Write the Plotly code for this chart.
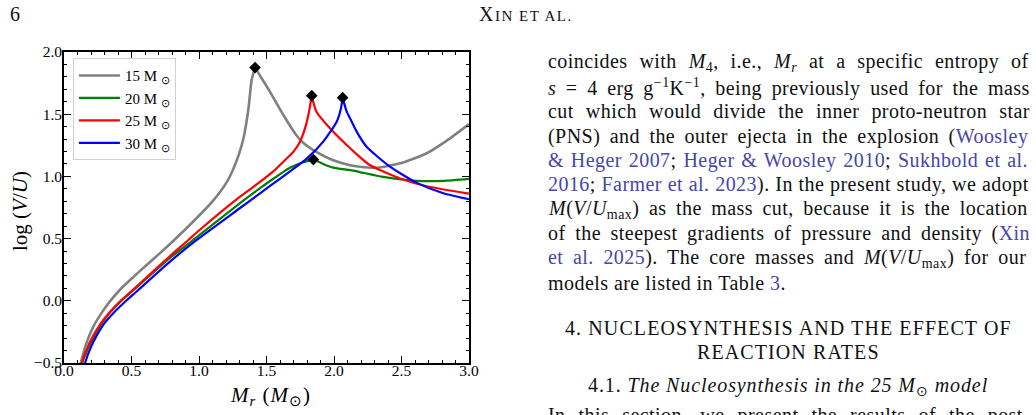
import re
import plotly.graph_objects as go

# ---------------- data ----------------
x15 = [0.09, 0.124, 0.16, 0.217, 0.28, 0.34, 0.42, 0.513, 0.61, 0.711, 0.785, 0.909, 1.032, 1.10,
       1.156, 1.21, 1.254, 1.295, 1.328, 1.365, 1.39, 1.415, 1.452, 1.526, 1.625, 1.72, 1.78, 1.847,
       1.995, 2.119, 2.19, 2.316, 2.49, 2.687, 2.86, 3.0]
y15 = [-0.64, -0.50, -0.36, -0.208, -0.095, -0.005, 0.095, 0.19, 0.286, 0.383, 0.457, 0.585, 0.72,
       0.80, 0.875, 0.962, 1.06, 1.175, 1.30, 1.534, 1.775, 1.875, 1.81, 1.68, 1.494, 1.333, 1.262,
       1.212, 1.13, 1.09, 1.078, 1.07, 1.105, 1.186, 1.306, 1.42]

x20 = [0.11, 0.135, 0.175, 0.22, 0.28, 0.34, 0.42, 0.513, 0.785, 0.946, 1.304, 1.452, 1.526, 1.674,
       1.76, 1.847, 1.92, 1.995, 2.119, 2.19, 2.365, 2.61, 2.81, 3.0]
y20 = [-0.64, -0.50, -0.39, -0.29, -0.18, -0.095, -0.005, 0.085, 0.345, 0.48, 0.785, 0.905, 0.963,
       1.07, 1.11, 1.135, 1.10, 1.07, 1.05, 1.035, 0.996, 0.964, 0.964, 0.98]

x25 = [0.11, 0.131, 0.17, 0.217, 0.27, 0.34, 0.42, 0.513, 0.785, 0.921, 1.0, 1.304, 1.427, 1.55,
       1.625, 1.70, 1.748, 1.785, 1.81, 1.835, 1.87, 1.97, 2.094, 2.19, 2.267, 2.49, 2.687, 3.0]
y25 = [-0.62, -0.50, -0.385, -0.28, -0.185, -0.09, 0.0, 0.09, 0.36, 0.489, 0.565, 0.837, 0.935,
       1.04, 1.118, 1.199, 1.279, 1.386, 1.493, 1.649, 1.52, 1.387, 1.252, 1.157, 1.09, 0.983,
       0.921, 0.862]

x30 = [0.13, 0.156, 0.20, 0.242, 0.30, 0.365, 0.45, 0.538, 0.785, 0.983, 1.304, 1.452, 1.526, 1.674,
       1.80, 1.92, 2.02, 2.05, 2.064, 2.094, 2.119, 2.168, 2.24, 2.415, 2.61, 2.81, 3.0]
y30 = [-0.62, -0.50, -0.37, -0.28, -0.18, -0.10, -0.01, 0.075, 0.315, 0.489, 0.746, 0.864, 0.923,
       1.04, 1.145, 1.28, 1.44, 1.54, 1.633, 1.52, 1.467, 1.36, 1.24, 1.078, 0.95, 0.864, 0.816]

peak_x = [1.415, 1.847, 1.835, 2.064]
peak_y = [1.875, 1.135, 1.649, 1.633]

series_names = ["15 M <sub>⊙</sub>", "20 M <sub>⊙</sub>", "25 M <sub>⊙</sub>", "30 M <sub>⊙</sub>"]
series_colors = ["#808080", "#008000", "#ff0000", "#0000ff"]

xticks = [0.0, 0.5, 1.0, 1.5, 2.0, 2.5, 3.0]
yticks = [-0.5, 0.0, 0.5, 1.0, 1.5, 2.0]

# ---------------- layout helpers ----------------
W, H = 1036, 415
L, R, T, B = 64, 567, 52, 52
SERIF = "Liberation Serif, Times New Roman, serif"
LINK = "#4646a8"
INK = "#111111"


def px_x(px):
    return (px - L) / (W - L - R)


def px_y(py):
    return (H - B - py) / (H - T - B)


# Times / Liberation Serif advance widths (1/1000 em)
TW = {' ': 250, '!': 333, '(': 333, ')': 333, ',': 250, '-': 333, '.': 250, '/': 278, ':': 278,
      ';': 278, '=': 564, '&': 778, '−': 564, '⊙': 800,
      'A': 722, 'B': 667, 'C': 667, 'D': 722, 'E': 611, 'F': 556, 'G': 722, 'H': 722, 'I': 333,
      'J': 389, 'K': 722, 'L': 611, 'M': 889, 'N': 722, 'O': 722, 'P': 556, 'Q': 722, 'R': 667,
      'S': 556, 'T': 611, 'U': 722, 'V': 722, 'W': 944, 'X': 722, 'Y': 722, 'Z': 611,
      'a': 444, 'b': 500, 'c': 444, 'd': 500, 'e': 444, 'f': 333, 'g': 500, 'h': 500, 'i': 278,
      'j': 278, 'k': 500, 'l': 278, 'm': 778, 'n': 500, 'o': 500, 'p': 500, 'q': 500, 'r': 333,
      's': 389, 't': 278, 'u': 500, 'v': 500, 'w': 722, 'x': 500, 'y': 500, 'z': 444}


def measure(markup, size, ls):
    width, nsp, scale = 0.0, 0, 1.0
    for tok in re.split(r'(<[^>]+>)', markup):
        if tok.startswith('<'):
            if tok in ('<sub>', '<sup>'):
                scale = 0.7
            elif tok in ('</sub>', '</sup>'):
                scale = 1.0
            continue
        tok = tok.replace('&amp;', '&')
        for ch in tok:
            width += TW.get(ch, 500) / 1000 * size * scale + ls
            if ch == ' ':
                nsp += 1
    return width, nsp


def justify(markup, size, ls, target):
    w, n = measure(markup, size, ls)
    ws = (target - w) / n if n else 0
    return f"<span style='word-spacing:{ws:.2f}px;letter-spacing:{ls}px'>{markup}</span>"


fig = go.Figure()
for xs, ys, nm, col, lw in zip([x15, x20, x25, x30], [y15, y20, y25, y30], series_names,
                               series_colors, [2.6, 2.2, 2.2, 2.2]):
    k = ys.index(max(ys))
    fig.add_trace(go.Scatter(x=xs[:k + 1], y=ys[:k + 1], mode="lines", name=nm, legendgroup=nm,
                             line=dict(color=col, width=lw, shape="spline", smoothing=0.6)))
    fig.add_trace(go.Scatter(x=xs[k:], y=ys[k:], mode="lines", name=nm, legendgroup=nm,
                             showlegend=False,
                             line=dict(color=col, width=lw, shape="spline", smoothing=0.6)))
fig.add_trace(go.Scatter(x=peak_x, y=peak_y, mode="markers", showlegend=False,
                         marker=dict(symbol="diamond", size=9, color="black")))

axis_common = dict(ticks="inside", ticklen=7, tickwidth=1.3, tickcolor="black", showline=True,
                   linecolor="black", linewidth=1.6, mirror="allticks", showgrid=False,
                   zeroline=False, tickformat=".1f",
                   tickfont=dict(family=SERIF, size=15.5, color="black"),
                   minor=dict(dtick=0.1, ticks="inside", ticklen=3.5, tickwidth=1.1,
                              tickcolor="black", showgrid=False))

fig.update_xaxes(range=[0, 3], tickvals=xticks, ticklabelstandoff=-7, **axis_common)
fig.update_yaxes(range=[-0.5, 2.0], tickvals=yticks, ticklabelstandoff=-3, **axis_common)

ann = []
# axis titles
ann.append(dict(text="<span style='letter-spacing:1px'><i>M<sub>r</sub></i> (<i>M</i><sub>⊙</sub>)</span>",
                x=px_x(270), y=px_y(396), xref="paper", yref="paper", xanchor="center",
                yanchor="middle", showarrow=False, font=dict(family=SERIF, size=21, color="black")))
ann.append(dict(text="log (<i>V</i>/<i>U</i>)", x=px_x(20), y=px_y(211), xref="paper",
                yref="paper", xanchor="center", yanchor="middle", textangle=-90, showarrow=False,
                font=dict(family=SERIF, size=21, color="black")))

# ---------------- page text ----------------
def blue(s):
    return f"<span style='color:{LINK}'>{s}</span>"


body_lines = [
    "coincides with <i>M</i><sub>4</sub>, i.e., <i>M<sub>r</sub></i> at a specific entropy of",
    "<i>s</i> = 4 erg g<sup>−1</sup>K<sup>−1</sup>, being previously used for the mass",
    "cut which would divide the inner proto-neutron star",
    "(PNS) and the outer ejecta in the explosion (" + blue("Woosley"),
    blue("&amp; Heger 2007") + "; " + blue("Heger &amp; Woosley 2010") + "; " + blue("Sukhbold et al."),
    blue("2016") + "; " + blue("Farmer et al. 2023") + "). In the present study, we adopt",
    "<i>M</i>(<i>V</i>/<i>U</i><sub>max</sub>) as the mass cut, because it is the location",
    "of the steepest gradients of pressure and density (" + blue("Xin"),
    blue("et al. 2025") + "). The core masses and <i>M</i>(<i>V</i>/<i>U</i><sub>max</sub>) for our",
    "models are listed in Table " + blue("3") + ".",
]
body_y = [62, 87, 111, 136, 160, 185, 209, 234, 258, 283]
BODY_SIZE, BODY_LS, TARGET = 20, 0.45, 482

for i, (txt, yy) in enumerate(zip(body_lines, body_y)):
    if i < len(body_lines) - 1:
        txt = justify(txt, BODY_SIZE, BODY_LS, TARGET)
    else:
        txt = f"<span style='letter-spacing:{BODY_LS}px'>{txt}</span>"
    ann.append(dict(text=txt, x=px_x(546), y=px_y(yy), xref="paper", yref="paper",
                    xanchor="left", yanchor="middle", showarrow=False,
                    font=dict(family=SERIF, size=BODY_SIZE, color=INK)))

centered = [
    ("4. NUCLEOSYNTHESIS AND THE EFFECT OF", 328, 1.1),
    ("REACTION RATES", 352, 1.1),
    ("4.1. <i>The Nucleosynthesis in the 25 M</i><sub>⊙</sub><i> model</i>", 386, 0.9),
]
for txt, yy, ls in centered:
    ann.append(dict(text=f"<span style='letter-spacing:{ls}px'>{txt}</span>", x=px_x(788),
                    y=px_y(yy), xref="paper", yref="paper", xanchor="center", yanchor="middle",
                    showarrow=False, font=dict(family=SERIF, size=20, color=INK)))

ann.append(dict(text=justify("In this section, we present the results of the post-",
                             BODY_SIZE, BODY_LS, TARGET),
                x=px_x(546), y=px_y(402), xref="paper", yref="paper", xanchor="left",
                yanchor="top", showarrow=False, font=dict(family=SERIF, size=BODY_SIZE, color=INK)))

ann.append(dict(text="6", x=px_x(8), y=px_y(14), xref="paper", yref="paper", xanchor="left",
                yanchor="middle", showarrow=False, font=dict(family=SERIF, size=20, color=INK)))
ann.append(dict(text="<span style='letter-spacing:1.5px'>X<span style='font-size:15px'>IN ET AL.</span></span>",
                x=px_x(526), y=px_y(14), xref="paper", yref="paper", xanchor="center",
                yanchor="middle", showarrow=False, font=dict(family=SERIF, size=20, color=INK)))

fig.update_layout(
    width=W, height=H,
    margin=dict(l=L, r=R, t=T, b=B, autoexpand=False),
    paper_bgcolor="white", plot_bgcolor="white",
    font=dict(family=SERIF, color="black"),
    annotations=ann,
    legend=dict(x=0.022, y=0.98, xanchor="left", yanchor="top",
                bgcolor="rgba(255,255,255,0.85)", bordercolor="#d0d0d0", borderwidth=1,
                font=dict(family=SERIF, size=15, color="black"), tracegroupgap=0,
                itemwidth=41),
)

fig.write_html("out.html")
